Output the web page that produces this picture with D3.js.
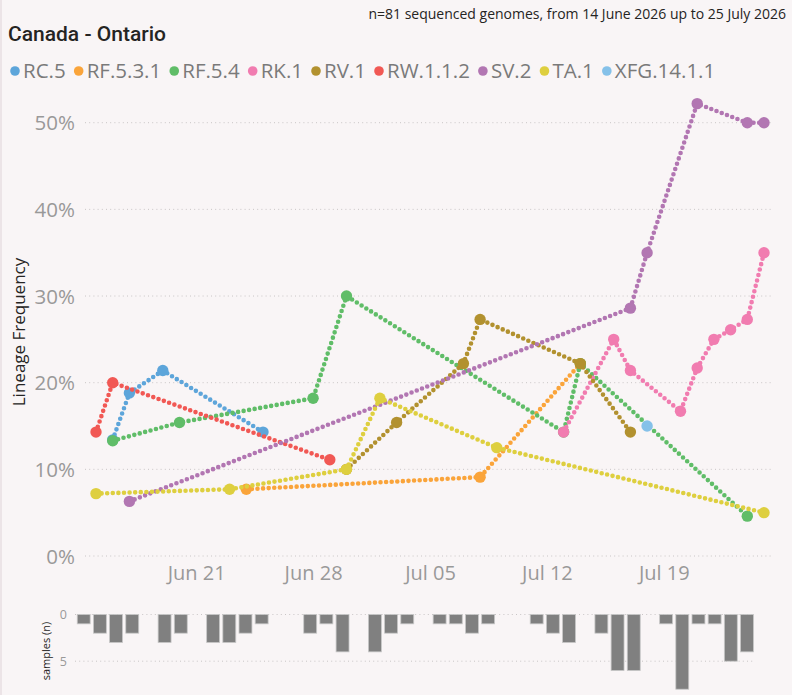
<!DOCTYPE html>
<html>
<head>
<meta charset="utf-8">
<script src="https://cdn.jsdelivr.net/npm/d3@7"></script>
<style>
  html, body { margin: 0; padding: 0; background: #f9f5f6; }
  svg { display: block; }
</style>
</head>
<body>
<div id="chart"></div>
<script>
/* lineage names and colours */
var lineages = ["RC.5", "RF.5.3.1", "RF.5.4", "RK.1", "RV.1", "RW.1.1.2", "SV.2", "TA.1", "XFG.14.1.1"];
var colors = ["#5da5da", "#faa43a", "#60bd68", "#f17cb0", "#b2912f", "#f15854", "#b276b2", "#decf3f", "#85c1e9"];

/* frequency per lineage, [date, percent] */
var rc5     = [["2026-06-16", 13.4], ["2026-06-17", 18.8], ["2026-06-19", 21.4], ["2026-06-25", 14.3]];
var rf531   = [["2026-06-24", 7.7], ["2026-07-08", 9.1], ["2026-07-14", 22.2]];
var rf54    = [["2026-06-16", 13.3], ["2026-06-20", 15.4], ["2026-06-28", 18.2], ["2026-06-30", 30.0],
               ["2026-07-13", 14.3], ["2026-07-14", 22.2], ["2026-07-24", 4.6]];
var rk1     = [["2026-07-13", 14.3], ["2026-07-16", 25.0], ["2026-07-17", 21.4], ["2026-07-20", 16.7],
               ["2026-07-21", 21.7], ["2026-07-22", 25.0], ["2026-07-23", 26.1], ["2026-07-24", 27.3],
               ["2026-07-25", 35.0]];
var rv1     = [["2026-06-30", 10.0], ["2026-07-03", 15.4], ["2026-07-07", 22.2], ["2026-07-08", 27.3],
               ["2026-07-14", 22.2], ["2026-07-17", 14.3]];
var rw112   = [["2026-06-15", 14.3], ["2026-06-16", 20.0], ["2026-06-29", 11.1]];
var sv2     = [["2026-06-17", 6.3], ["2026-07-17", 28.6], ["2026-07-18", 35.0], ["2026-07-21", 52.2],
               ["2026-07-24", 50.0], ["2026-07-25", 50.0]];
var ta1     = [["2026-06-15", 7.2], ["2026-06-23", 7.7], ["2026-06-30", 10.0], ["2026-07-02", 18.2],
               ["2026-07-09", 12.5], ["2026-07-25", 5.0]];
var xfg1411 = [["2026-07-18", 15.0]];

var seriesValues = [rc5, rf531, rf54, rk1, rv1, rw112, sv2, ta1, xfg1411];

/* x tick labels and y ticks */
var xTickDates = ["2026-06-21", "2026-06-28", "2026-07-05", "2026-07-12", "2026-07-19"];
var yTicks = [0, 10, 20, 30, 40, 50];

/* samples per day, 14 June .. 25 July */
var sampleStart = "2026-06-14";
var sampleCounts = [1, 2, 3, 2, 0, 3, 2, 0, 3, 3, 2, 1, 0, 0,
                    2, 1, 4, 0, 4, 2, 1, 0, 1, 1, 2, 1, 0, 0,
                    1, 2, 3, 0, 2, 6, 6, 0, 1, 8, 1, 1, 5, 4];
var sampleTicks = [0, 5];

var width = 792,
    height = 695,
    font = "'Open Sans', 'Noto Sans', sans-serif";

var parse = d3.utcParse("%Y-%m-%d");

var svg = d3.select("#chart")
            .append("svg")
            .attr("width", width)
            .attr("height", height);

svg.append("rect")
    .attr("width", width)
    .attr("height", height)
    .attr("fill", "#f9f5f6");

svg.append("line")
    .attr("x1", 1).attr("x2", 1)
    .attr("y1", 0).attr("y2", height)
    .attr("stroke", "#ece4e7")
    .attr("stroke-width", 2);

/* titles */
svg.append("text")
    .attr("x", 786)
    .attr("y", 19)
    .attr("text-anchor", "end")
    .attr("font-family", font)
    .attr("font-size", 14)
    .attr("fill", "#252423")
    .text("n=81 sequenced genomes, from 14 June 2026 up to 25 July 2026");

svg.append("text")
    .attr("x", 8)
    .attr("y", 41)
    .attr("font-family", "Roboto, sans-serif")
    .attr("font-weight", 500)
    .attr("font-size", 21)
    .attr("fill", "#252423")
    .text("Canada - Ontario");

/* legend */
var legend = svg.append("g").attr("class", "legend");
var cursor = 10;
lineages.forEach(function(name, i) {
    var item = legend.append("g").attr("transform", "translate(" + cursor + ",71)");
    item.append("circle")
        .attr("cx", 5)
        .attr("cy", 0)
        .attr("r", 4.8)
        .attr("fill", colors[i]);
    var t = item.append("text")
        .attr("x", 13)
        .attr("y", 7)
        .attr("font-family", font)
        .attr("font-size", 20.5)
        .attr("fill", "#7a7a7a")
        .text(name);
    cursor += 13 + t.node().getComputedTextLength() + 8;
});

/* scales for the main chart */
var x = d3.scaleUtc()
    .domain([parse("2026-06-15"), parse("2026-07-25")])
    .range([96, 764]);

var y = d3.scaleLinear()
    .domain([0, 50])
    .range([556, 122.7]);

/* gridlines */
svg.append("g")
    .selectAll("line")
    .data(yTicks)
    .enter().append("line")
        .attr("x1", 85)
        .attr("x2", 771)
        .attr("y1", function(d) { return y(d); })
        .attr("y2", function(d) { return y(d); })
        .attr("stroke", "#c9c5c6")
        .attr("stroke-dasharray", "1 3.2");

/* y axis */
var yAxis = d3.axisLeft(y)
    .tickValues(yTicks)
    .tickFormat(function(d) { return d + "%"; })
    .tickSize(0)
    .tickPadding(0);

var yg = svg.append("g")
    .attr("transform", "translate(75,0)")
    .call(yAxis);
yg.select(".domain").remove();
yg.selectAll("text")
    .attr("font-family", font)
    .attr("font-size", 20.5)
    .attr("fill", "#999")
    .attr("dy", "0.35em");

svg.append("text")
    .attr("transform", "translate(25,332)rotate(-90)")
    .attr("text-anchor", "middle")
    .attr("font-family", font)
    .attr("font-size", 17)
    .attr("fill", "#252423")
    .text("Lineage Frequency");

/* x axis */
var xAxis = d3.axisBottom(x)
    .tickValues(xTickDates.map(parse))
    .tickFormat(d3.utcFormat("%b %d"))
    .tickSize(0)
    .tickPadding(0);

var xg = svg.append("g")
    .attr("transform", "translate(0,580)")
    .call(xAxis);
xg.select(".domain").remove();
xg.selectAll("text")
    .attr("font-family", font)
    .attr("font-size", 20)
    .attr("fill", "#999")
    .attr("dy", 0);

/* dotted lines with markers, later lineages on top */
var line = d3.line()
    .x(function(d) { return x(parse(d[0])); })
    .y(function(d) { return y(d[1]); });

var series = svg.append("g")
    .selectAll("g")
    .data(seriesValues)
    .enter().append("g")
        .attr("fill", function(d, i) { return colors[i]; })
        .attr("stroke", function(d, i) { return colors[i]; });

series.append("path")
    .attr("d", line)
    .attr("fill", "none")
    .attr("stroke-width", 4.6)
    .attr("stroke-linecap", "round")
    .attr("stroke-dasharray", "0 5.6");

series.selectAll("circle")
    .data(function(d) { return d; })
    .enter().append("circle")
        .attr("cx", function(d) { return x(parse(d[0])); })
        .attr("cy", function(d) { return y(d[1]); })
        .attr("r", 5.7)
        .attr("stroke", "none");

/* samples chart */
var start = parse(sampleStart);
var sampleDays = sampleCounts.map(function(c, i) { return d3.utcDay.offset(start, i); });

var bx = d3.scaleBand()
    .domain(sampleDays)
    .range([74, 756.7])
    .padding(0.2);

var by = d3.scaleLinear()
    .domain([0, 5])
    .range([614.5, 661.2]);

svg.append("g")
    .selectAll("line")
    .data(sampleTicks)
    .enter().append("line")
        .attr("x1", 75)
        .attr("x2", 753)
        .attr("y1", function(d) { return by(d); })
        .attr("y2", function(d) { return by(d); })
        .attr("stroke", "#c9c5c6")
        .attr("stroke-dasharray", "1 3.2");

var byAxis = d3.axisLeft(by)
    .tickValues(sampleTicks)
    .tickFormat(d3.format("d"))
    .tickSize(0)
    .tickPadding(0);

var byg = svg.append("g")
    .attr("transform", "translate(67,0)")
    .call(byAxis);
byg.select(".domain").remove();
byg.selectAll("text")
    .attr("font-family", font)
    .attr("font-size", 12.5)
    .attr("fill", "#999")
    .attr("dy", "0.35em");

svg.append("text")
    .attr("transform", "translate(50,651)rotate(-90)")
    .attr("text-anchor", "middle")
    .attr("font-family", font)
    .attr("font-size", 11)
    .attr("fill", "#252423")
    .text("samples (n)");

svg.append("g")
    .selectAll("rect")
    .data(sampleCounts.map(function(c, i) { return {day: sampleDays[i], n: c}; })
                      .filter(function(d) { return d.n > 0; }))
    .enter().append("rect")
        .attr("x", function(d) { return bx(d.day); })
        .attr("y", by(0))
        .attr("width", bx.bandwidth())
        .attr("height", function(d) { return by(d.n) - by(0); })
        .attr("fill", "#808080")
        .attr("stroke", "#c8c8c8")
        .attr("stroke-width", 0.8);
</script>
</body>
</html>
